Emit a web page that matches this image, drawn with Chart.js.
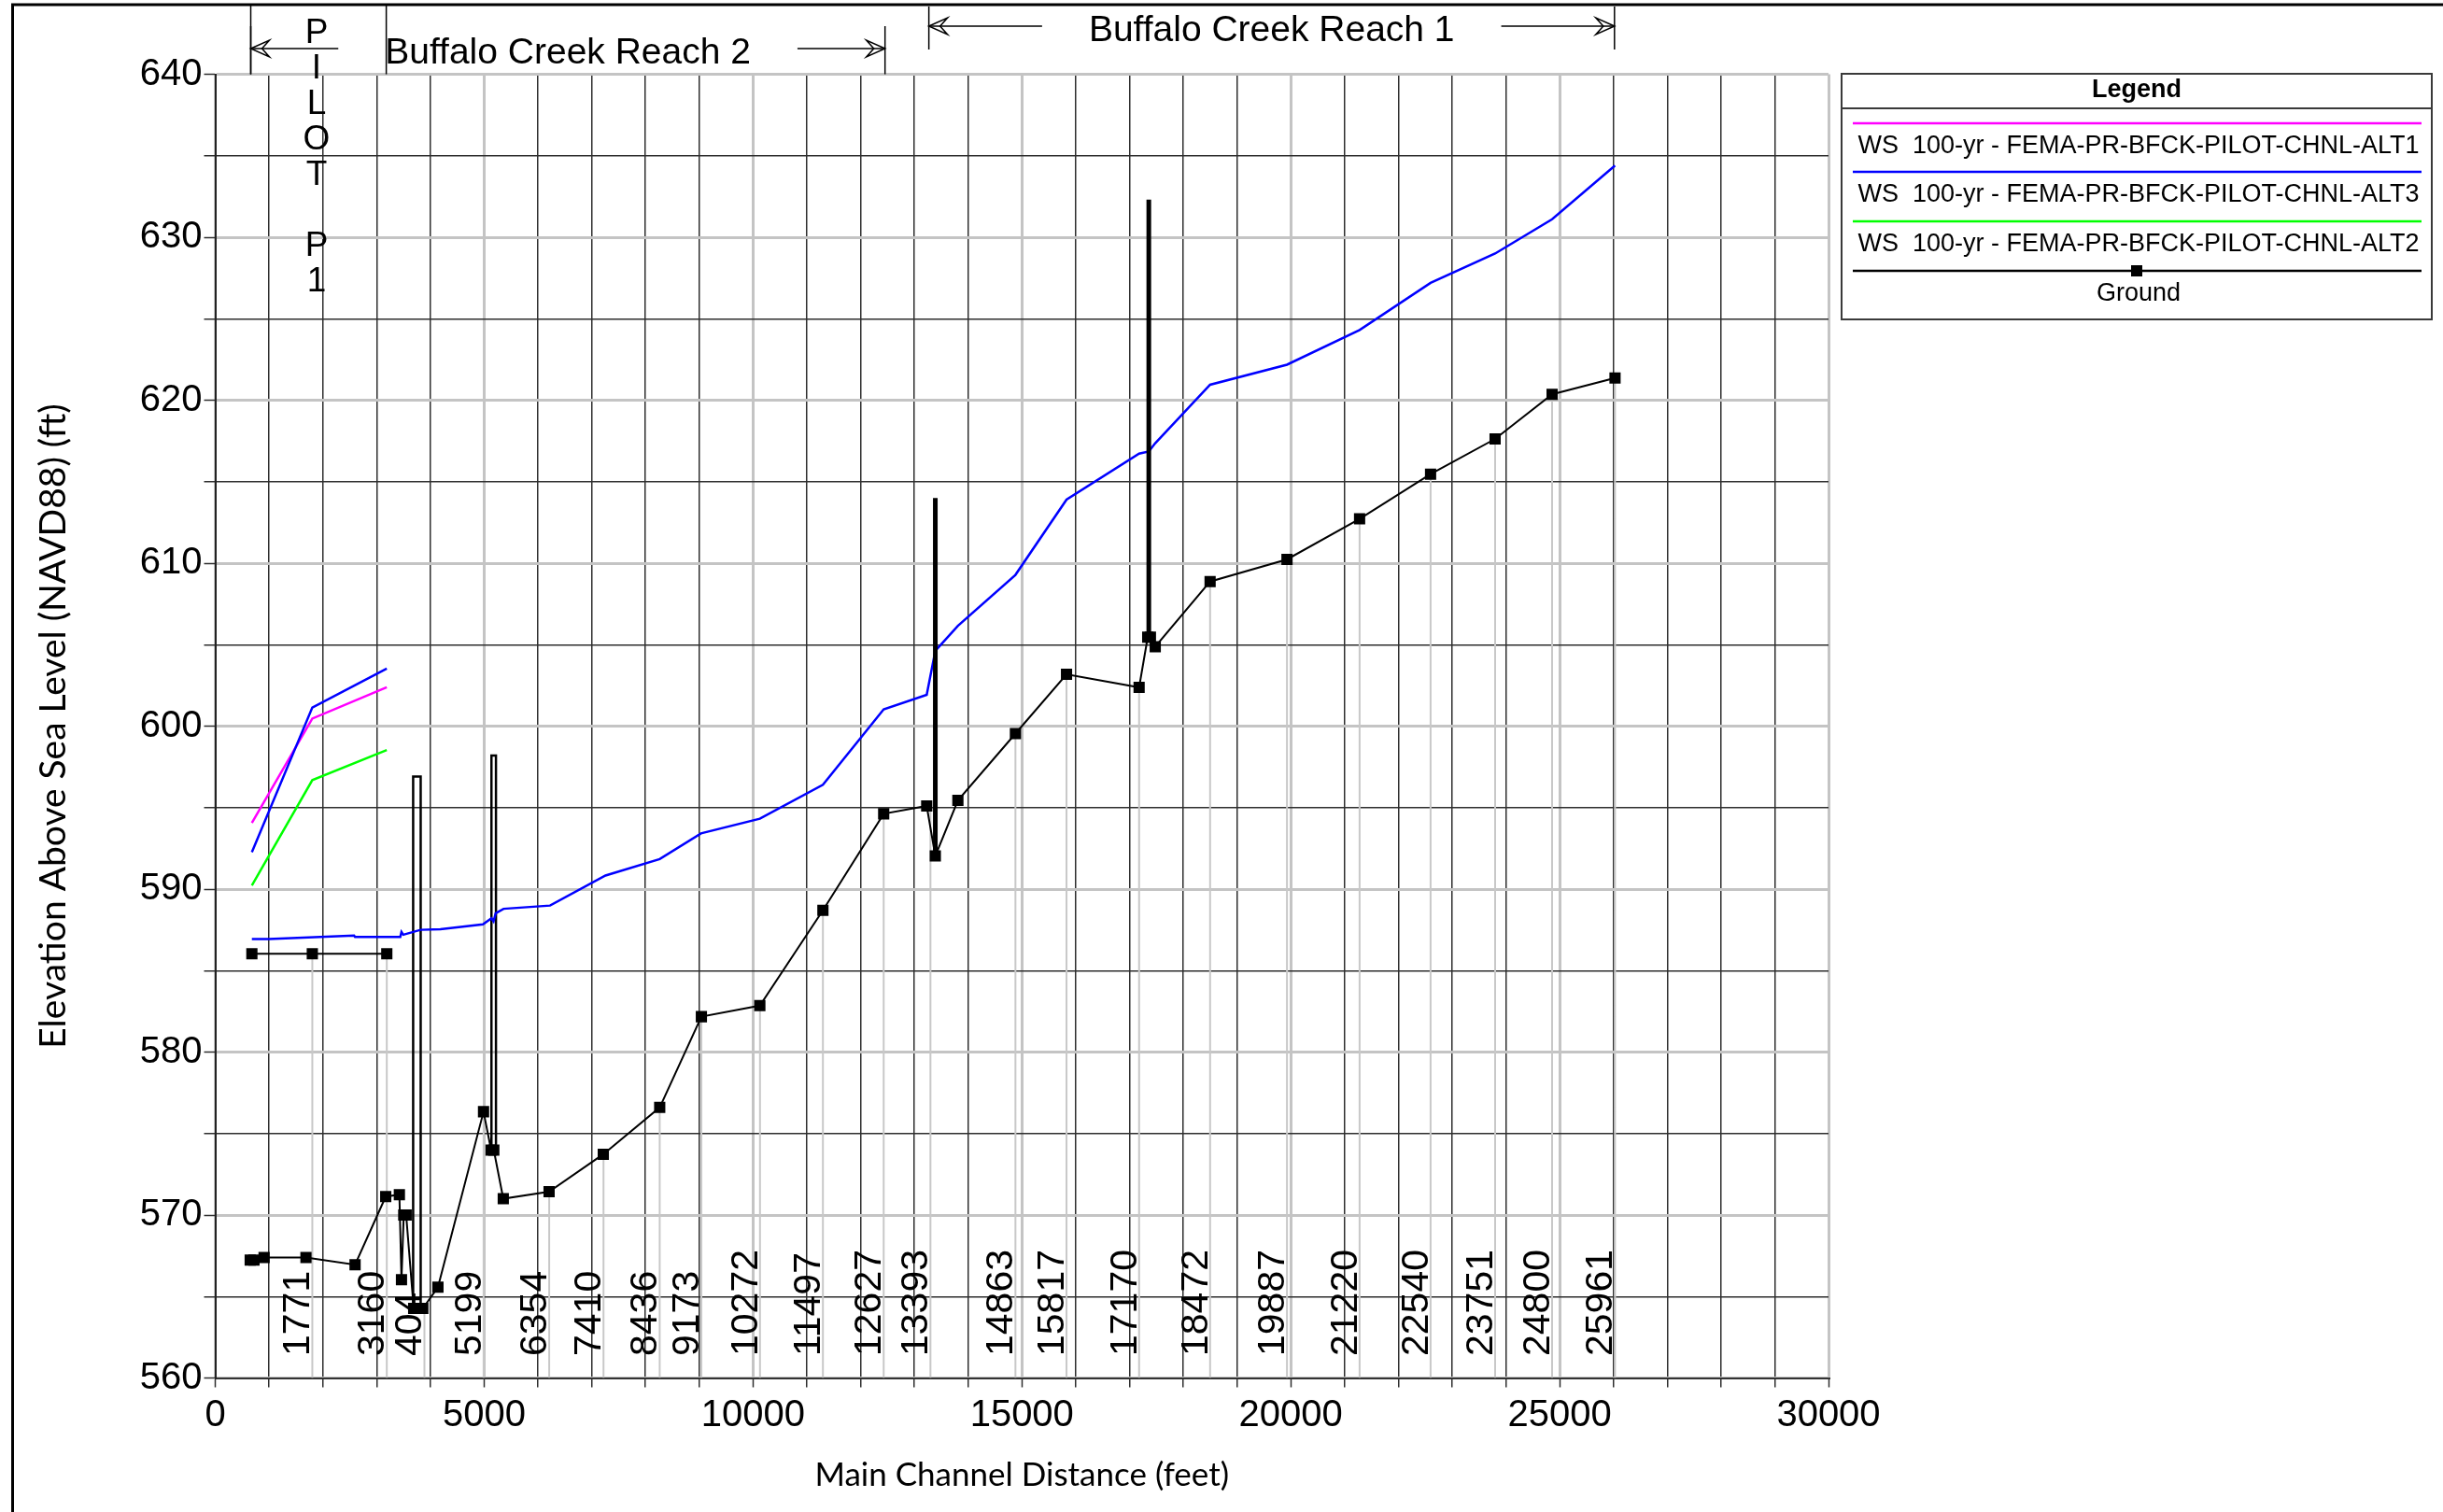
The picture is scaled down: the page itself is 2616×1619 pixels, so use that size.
<!DOCTYPE html>
<html>
<head>
<meta charset="utf-8">
<title>Buffalo Creek Profile</title>
<script src="https://cdn.jsdelivr.net/npm/chart.js@4.4.1/dist/chart.umd.min.js"></script>
<style>
  html, body { margin: 0; padding: 0; background: #fff; }
  #wrap { position: relative; width: 2616px; height: 1619px; }
</style>
</head>
<body>
<div id="wrap"><canvas id="profile"></canvas></div>
<script>
// distances are main channel distance (ft), elevations ft NAVD88

// ground profile, reach 2 + reach 1
const groundX = [650, 720, 908, 1687, 2600, 3170, 3424, 3463, 3505, 3550, 3690, 3860, 4141, 4989, 5130,
  5180, 5356, 6208, 7216, 8265, 9040, 10127, 11300, 12430, 13230, 13390, 13810, 14880, 15830, 17180,
  17340, 17390, 17480, 18500, 19930, 21280, 22600, 23800, 24860, 26030];
const groundY = [567.24, 567.24, 567.39, 567.39, 566.95, 571.13, 571.25, 566.03, 570.0, 570.0, 564.27, 564.27, 565.57, 576.34, 573.98,
  573.98, 571.0, 571.43, 573.73, 576.6, 582.17, 582.85, 588.7, 594.62, 595.1, 592.03, 595.44, 599.54, 603.18, 602.38,
  605.46, 605.46, 604.87, 608.87, 610.23, 612.72, 615.46, 617.62, 620.36, 621.36];

// 100-yr water surface ALT3, reach 2 + reach 1 (ALT1/ALT2 sit under it)
const wsX = [681, 991, 2581, 2600, 3441, 3463, 3497, 3819, 4186, 4978, 5136, 5175, 5215, 5362, 6226,
  7257, 8265, 9033, 10127, 11300, 12430, 13230, 13390, 13810, 14880, 15830, 17180, 17360, 17480, 18500,
  19930, 21280, 22600, 23800, 24860, 26030];
const wsAlt3 = [586.93, 586.93, 587.15, 587.06, 587.06, 587.37, 587.2, 587.5, 587.54, 587.83, 588.21, 588.02, 588.52, 588.79, 588.99,
  590.83, 591.84, 593.42, 594.32, 596.4, 601.03, 601.92, 604.62, 606.15, 609.28, 613.9, 616.72, 616.85, 617.36, 620.95,
  622.18, 624.31, 627.2, 629.0, 631.1, 634.4];

// pilot channel P1
const pilotX = [681, 1805, 3190];
const pilotGround = [586.03, 586.03, 586.03];
const pilotAlt1 = [594.06, 600.46, 602.39];
const pilotAlt3 = [592.26, 601.14, 603.53];
const pilotAlt2 = [590.22, 596.69, 598.53];

// bridges (deck outline) and inline structures
const bridgeLeft = [3680, 5136];
const bridgeRight = [3820, 5220];
const bridgeTop = [596.9, 598.2];
const bridgeBottom = [564.27, 573.98];
const weirX = [13390, 17360];
const weirTop = [614.0, 632.3];
const weirBottom = [592.03, 605.46];

// cross section labels
const stationNames = ['1771', '3160', '404', '5199', '6354', '7410', '8436', '9173', '10272', '11497', '12627',
  '13393', '14863', '15817', '17170', '18472', '19887', '21220', '22540', '23751', '24800', '25961'];
const stationX = [1805, 3190, 3890, 4990, 6210, 7220, 8265, 9040, 10130, 11300, 12430,
  13300, 14880, 15830, 17180, 18500, 19930, 21280, 22600, 23800, 24860, 26030];
const stationTop = [586.03, 586.03, 564.27, 576.34, 571.43, 573.73, 576.6, 582.17, 582.85, 588.7, 594.62,
  595.1, 599.54, 603.18, 602.38, 608.87, 610.23, 612.72, 615.46, 617.62, 620.36, 621.36];

// reaches
const reachNames = ['Buffalo Creek Reach 2', 'Buffalo Creek Reach 1'];
const reachFrom = [660, 13270];
const reachTo = [12455, 26020];
const pilotLetters = ['P', 'I', 'L', 'O', 'T', '', 'P', '1'];
const pilotFrom = 660;
const pilotTo = 3180;

const legendLabels = [
  'WS  100-yr - FEMA-PR-BFCK-PILOT-CHNL-ALT1',
  'WS  100-yr - FEMA-PR-BFCK-PILOT-CHNL-ALT3',
  'WS  100-yr - FEMA-PR-BFCK-PILOT-CHNL-ALT2',
  'Ground'
];
const MAGENTA = '#ff00ff', BLUE = '#0000ff', GREEN = '#00ff00', BLACK = '#000000';
const legendColors = [MAGENTA, BLUE, GREEN, BLACK];

const GRID_LIGHT = '#c4c4c4';
const GRID_DARK = '#2e2e2e';
const FONT = '"Liberation Sans", Arial, sans-serif';

function pts(xs, ys) {
  return xs.map((x, i) => ({ x: x, y: ys[i] }));
}

function lineSet(data, color, width, order) {
  return {
    data: data, showLine: true, borderColor: color, backgroundColor: color,
    borderWidth: width, pointRadius: 0, order: order, tension: 0
  };
}

// gray drop lines under each labelled cross section
const stationLines = [];
stationX.forEach((x, i) => {
  stationLines.push({ x: x, y: stationTop[i] }, { x: x, y: 560 }, { x: x, y: null });
});

const bridgeLines = [];
bridgeLeft.forEach((xl, i) => {
  bridgeLines.push({ x: xl, y: bridgeBottom[i] }, { x: xl, y: bridgeTop[i] },
    { x: bridgeRight[i], y: bridgeTop[i] }, { x: bridgeRight[i], y: bridgeBottom[i] }, { x: xl, y: null });
});

const weirLines = [];
weirX.forEach((x, i) => {
  weirLines.push({ x: x, y: weirBottom[i] }, { x: x, y: weirTop[i] }, { x: x, y: null });
});

const groundStyle = {
  showLine: true, borderColor: BLACK, backgroundColor: BLACK, borderWidth: 2,
  pointStyle: 'rect', pointRadius: 8.5, pointBorderWidth: 0, order: 4
};

const datasets = [
  Object.assign(lineSet(stationLines, '#c8c8c8', 2, 9), { spanGaps: false }),
  Object.assign(lineSet(bridgeLines, BLACK, 2.5, 5), { spanGaps: false }),
  Object.assign({ data: pts(groundX, groundY) }, groundStyle),
  Object.assign({ data: pts(pilotX, pilotGround) }, groundStyle),
  lineSet(pts(wsX, wsAlt3), BLUE, 2.5, 1),
  lineSet(pts(pilotX, pilotAlt2), GREEN, 2.5, 2),
  lineSet(pts(pilotX, pilotAlt3), BLUE, 2.5, 2),
  lineSet(pts(pilotX, pilotAlt1), MAGENTA, 2.5, 2),
  Object.assign(lineSet(weirLines, BLACK, 5, 0), { spanGaps: false })
];

function arrowHead(ctx, tipX, y, dir) {
  // open arrowhead, dir = 1 points left, -1 points right
  ctx.beginPath();
  ctx.moveTo(tipX, y);
  ctx.lineTo(tipX + dir * 20, y - 9);
  ctx.lineTo(tipX + dir * 12, y);
  ctx.lineTo(tipX + dir * 20, y + 9);
  ctx.closePath();
  ctx.stroke();
}

function vline(ctx, x, y0, y1) {
  ctx.beginPath();
  ctx.moveTo(x, y0);
  ctx.lineTo(x, y1);
  ctx.stroke();
}

const stationLabelPlugin = {
  id: 'stationLabels',
  afterDatasetsDraw(chart) {
    const { ctx, scales: { x } } = chart;
    ctx.save();
    ctx.font = '41px ' + FONT;
    ctx.fillStyle = '#000';
    ctx.textAlign = 'left';
    ctx.textBaseline = 'alphabetic';
    stationNames.forEach((name, i) => {
      ctx.save();
      ctx.translate(x.getPixelForValue(stationX[i]) - 3, 1452);
      ctx.rotate(-Math.PI / 2);
      ctx.fillText(name, 0, 0);
      ctx.restore();
    });
    ctx.restore();
  }
};

const decorPlugin = {
  id: 'decor',
  afterDraw(chart) {
    const { ctx, scales: { x } } = chart;
    const plotTop = chart.chartArea.top;
    ctx.save();

    // page frame
    ctx.strokeStyle = '#000';
    ctx.lineWidth = 3;
    ctx.beginPath();
    ctx.moveTo(13.5, 1619);
    ctx.lineTo(13.5, 5);
    ctx.lineTo(2616, 5);
    ctx.stroke();

    // reach markers above the plot
    ctx.lineWidth = 1.5;
    ctx.font = '39px ' + FONT;
    ctx.fillStyle = '#000';
    ctx.textAlign = 'center';
    ctx.textBaseline = 'middle';
    const rowY = [52, 28];
    const textY = [57, 33];
    const tickTop = [28, 7];
    const tickBottom = [plotTop, 53];
    reachNames.forEach((name, i) => {
      const x0 = x.getPixelForValue(reachFrom[i]);
      const x1 = x.getPixelForValue(reachTo[i]);
      const mid = (x0 + x1) / 2;
      const half = ctx.measureText(name).width / 2;
      ctx.fillText(name, mid, textY[i]);
      vline(ctx, x0, tickTop[i], tickBottom[i]);
      vline(ctx, x1, tickTop[i], tickBottom[i]);
      ctx.beginPath();
      ctx.moveTo(x0, rowY[i]);
      ctx.lineTo(mid - half - 50, rowY[i]);
      ctx.moveTo(x1, rowY[i]);
      ctx.lineTo(mid + half + 50, rowY[i]);
      ctx.stroke();
      arrowHead(ctx, x0, rowY[i], 1);
      arrowHead(ctx, x1, rowY[i], -1);
    });

    // pilot channel reach, vertical lettering
    const p0 = x.getPixelForValue(pilotFrom);
    const p1 = x.getPixelForValue(pilotTo);
    vline(ctx, p0, 5, plotTop);
    vline(ctx, p1, 5, plotTop);
    ctx.font = '37px ' + FONT;
    pilotLetters.forEach((ch, i) => {
      ctx.fillText(ch, 339, 36 + i * 38);
    });

    // legend box
    const L = 1972, T = 79, R = 2604, B = 342, H = 116;
    ctx.strokeStyle = '#3a3a3a';
    ctx.lineWidth = 2;
    ctx.strokeRect(L, T, R - L, B - T);
    ctx.beginPath();
    ctx.moveTo(L, H);
    ctx.lineTo(R, H);
    ctx.stroke();
    ctx.font = 'bold 27px ' + FONT;
    ctx.fillText('Legend', (L + R) / 2, 97);
    ctx.font = '27px ' + FONT;
    const lineY = [132, 184, 237, 290];
    const labelY = [157, 209, 262, 315];
    legendLabels.forEach((label, i) => {
      ctx.strokeStyle = legendColors[i];
      ctx.lineWidth = 2.5;
      ctx.beginPath();
      ctx.moveTo(1984, lineY[i]);
      ctx.lineTo(2593, lineY[i]);
      ctx.stroke();
      ctx.fillText(label, 2290, labelY[i]);
    });
    ctx.fillStyle = BLACK;
    ctx.fillRect(2288 - 6, 290 - 6, 12, 12);

    ctx.restore();
  }
};

const gridColor = step => c => (c.tick && Math.round(c.tick.value) % step === 0 ? GRID_LIGHT : GRID_DARK);
const gridWidth = step => c => (c.tick && Math.round(c.tick.value) % step === 0 ? 3 : 1.5);

new Chart(document.getElementById('profile'), {
  type: 'scatter',
  data: { datasets: datasets },
  options: {
    responsive: true,
    maintainAspectRatio: false,
    animation: false,
    devicePixelRatio: 1,
    layout: { padding: { left: 0, top: 79.5, right: 658, bottom: 0 } },
    plugins: { legend: { display: false }, tooltip: { enabled: false } },
    scales: {
      x: {
        type: 'linear',
        min: 0,
        max: 30000,
        ticks: {
          stepSize: 1000,
          autoSkip: false,
          maxRotation: 0,
          padding: 6,
          color: '#000',
          font: { family: FONT, size: 40 },
          callback: v => (v % 5000 === 0 ? String(v) : '')
        },
        grid: { color: gridColor(5000), lineWidth: gridWidth(5000), tickLength: 10, tickColor: GRID_DARK, tickWidth: 1.5 },
        border: { display: true, color: '#333', width: 2 },
        title: {
          display: true,
          text: 'Main Channel Distance (feet)',
          color: '#000',
          font: { family: 'Lato', size: 35 },
          padding: { top: 0, bottom: 18 }
        },
        afterFit: s => { s.height = 143.5; }
      },
      y: {
        min: 560,
        max: 640,
        ticks: {
          stepSize: 5,
          autoSkip: false,
          padding: 2,
          color: '#000',
          font: { family: FONT, size: 40 },
          callback: v => (v % 10 === 0 ? String(v) : '')
        },
        grid: { color: gridColor(10), lineWidth: gridWidth(10), tickLength: 12, tickColor: GRID_DARK, tickWidth: 1.5 },
        border: { display: true, color: '#222', width: 2 },
        title: {
          display: true,
          text: 'Elevation Above Sea Level (NAVD88) (ft)',
          color: '#000',
          font: { family: 'Lato', size: 39 },
          padding: { top: 34, bottom: 0 }
        },
        afterFit: s => { s.width = 230.5; }
      }
    }
  },
  plugins: [stationLabelPlugin, decorPlugin]
});
</script>
</body>
</html>
